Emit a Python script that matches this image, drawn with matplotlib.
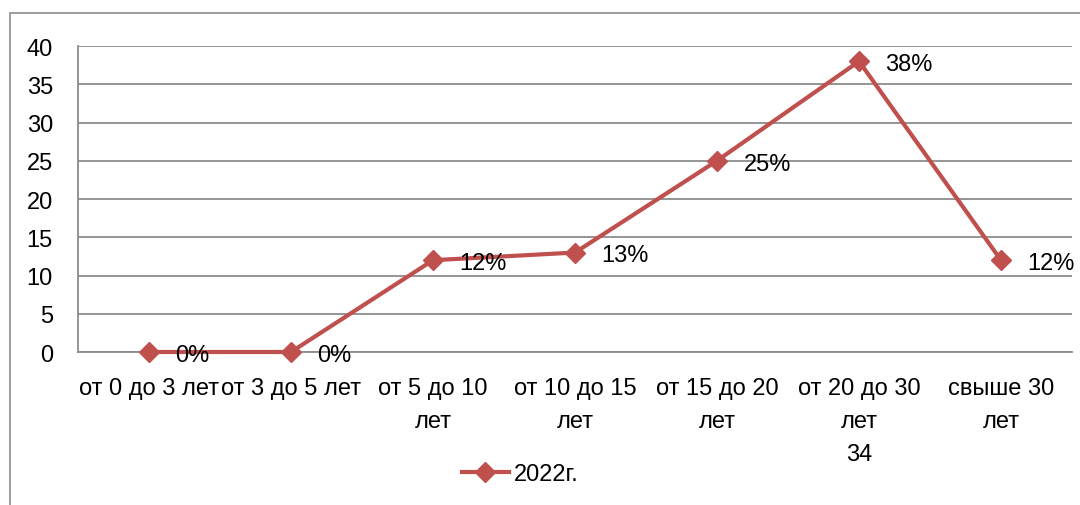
import matplotlib.pyplot as plt
from matplotlib.patches import Rectangle

categories = ['от 0 до 3 лет', 'от 3 до 5 лет', 'от 5 до 10\nлет', 'от 10 до 15\nлет',
              'от 15 до 20\nлет', 'от 20 до 30\nлет\n34', 'свыше 30\nлет']
values = [0, 0, 12, 13, 25, 38, 12]
labels = ['0%', '0%', '12%', '13%', '25%', '38%', '12%']
yticks = [0, 5, 10, 15, 20, 25, 30, 35, 40]

plt.rcParams['font.family'] = ['Liberation Sans Narrow', 'Liberation Sans', 'DejaVu Sans']
fs = 17
color = '#C0504D'
grid = '#8C8C8C'

fig = plt.figure(figsize=(10.8, 5.06), dpi=100)
fig.patches.append(Rectangle((10 / 1080, -0.1), 1.2, (506 - 14) / 506 + 0.1, transform=fig.transFigure,
                             fill=False, edgecolor='#8C8C8C', linewidth=1.2))
ax = fig.add_axes([78 / 1080, (506 - 353) / 506, 994 / 1080, 306 / 506])

x = list(range(len(categories)))
ax.plot(x, values, color=color, lw=3, marker='D', markersize=10.5, label='2022г.', clip_on=False, zorder=3)
for xi, v, t in zip(x, values, labels):
    ax.annotate(t, (xi, v), xytext=(19, -2), textcoords='offset points', ha='left', va='center', fontsize=fs)

ax.set_xlim(-0.5, len(categories) - 0.5)
ax.set_ylim(0, 40)
ax.set_yticks(yticks)
ax.set_xticks(x)
ax.set_xticklabels(categories, fontsize=fs, linespacing=1.65, va='top')
ax.tick_params(axis='y', labelsize=fs, length=0, pad=18)
ax.tick_params(axis='x', length=0, pad=18)
ax.grid(axis='y', color=grid, lw=1.3)
ax.set_axisbelow(True)
for s in ['top', 'right']:
    ax.spines[s].set_visible(False)
ax.spines['left'].set_color(grid)
ax.spines['bottom'].set_color(grid)
ax.spines['left'].set_linewidth(1.3)
ax.spines['bottom'].set_linewidth(1.3)

fig.legend(loc='center', bbox_to_anchor=(520 / 1080, (506 - 475) / 506), frameon=False,
           fontsize=fs, handlelength=2.0, handletextpad=0.2)

plt.savefig('out.png', dpi=100)
